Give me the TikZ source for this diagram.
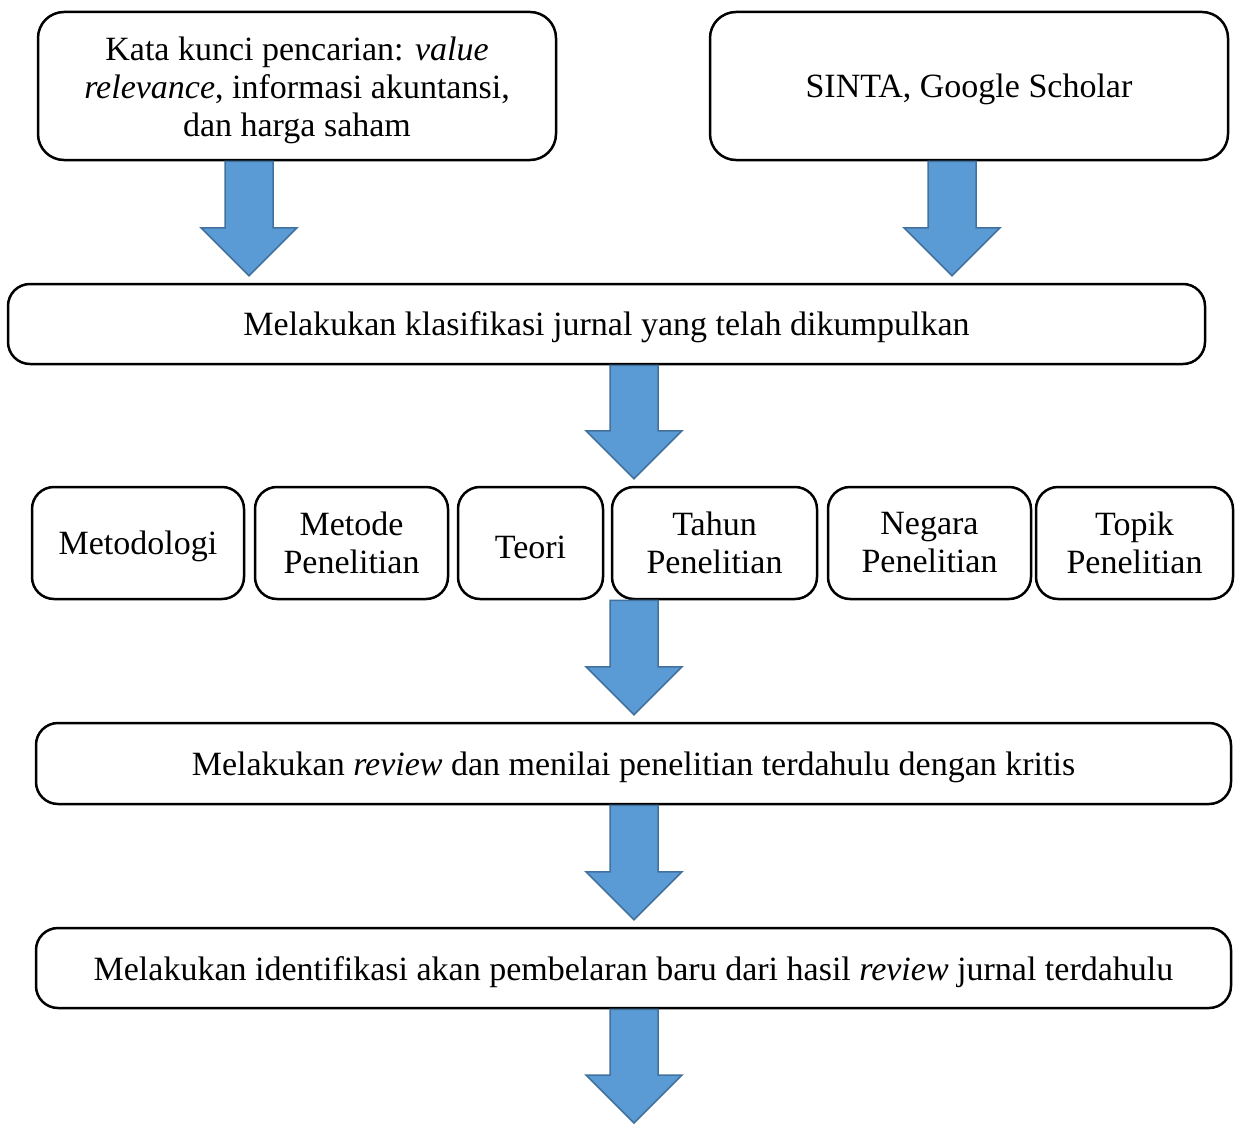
\documentclass[tikz,border=0pt]{standalone}
\usepackage{fontspec}
\setmainfont{Liberation Serif}
\usepackage{tikz}
\definecolor{arrowfill}{HTML}{5B9BD5}
\definecolor{arrowline}{HTML}{41719C}

% block arrow: x position, start point, end point
\newcommand{\flowarrow}[3]{%
    \coordinate (fa) at (#1,0 |- #2);
    \coordinate (fb) at (#1,0 |- #3);
    \path[blockarrow] ([xshift=-24pt]fa) -- ([xshift=24pt]fa)
        -- ([shift={(24,-55)}]fb) -- ([shift={(48,-55)}]fb)
        -- ([shift={(0,-7)}]fb)
        -- ([shift={(-48,-55)}]fb) -- ([shift={(-24,-55)}]fb) -- cycle;
}

\begin{document}
\begin{tikzpicture}[
                    x=1pt, y=-1pt,
                    box/.style={
                        rectangle,
                        draw,
                        line width=2.5pt,
                        rounded corners=22pt,
                        align=center,
                        inner sep=0pt,
                        font=\fontsize{34}{38}\selectfont
                    },
                    oneline/.style={
                        execute at begin node={\rule{0pt}{0.92em}}
                    },
                    blockarrow/.style={
                        fill=arrowfill,
                        draw=arrowline,
                        line width=1.5pt
                    }
                ]
                    \useasboundingbox (0,0) rectangle (1235,1124);

                    \node[box, minimum width=518pt, minimum height=148pt, rounded corners=26pt] (kata) at (297,86)
                        {\rule{0pt}{0.95em}Kata kunci pencarian: \textit{value}\\\textit{relevance}, informasi akuntansi,\\dan harga saham};
                    \node[box, oneline, minimum width=518pt, minimum height=148pt, rounded corners=26pt] (sinta) at (969,86)
                        {SINTA, Google Scholar};
                    \node[box, oneline, minimum width=1197pt, minimum height=80pt] (klas) at (606.5,324)
                        {Melakukan klasifikasi jurnal yang telah dikumpulkan};

                    % Row of classification items
                    \node[box, oneline, minimum width=212pt, minimum height=112pt] (metodologi) at (138,543) {Metodologi};
                    \node[box, minimum width=193pt, minimum height=112pt] (metode) at (351.5,543) {Metode\\Penelitian};
                    \node[box, oneline, minimum width=145pt, minimum height=112pt] (teori) at (530.5,543) {Teori};
                    \node[box, minimum width=205pt, minimum height=112pt] (tahun) at (714.5,543) {Tahun\\Penelitian};
                    \node[box, minimum width=203pt, minimum height=112pt] (negara) at (929.5,543) {Negara\\Penelitian};
                    \node[box, minimum width=197pt, minimum height=112pt] (topik) at (1134.5,543) {Topik\\Penelitian};

                    \node[box, oneline, minimum width=1195pt, minimum height=81pt] (review) at (633.5,763.5)
                        {Melakukan \textit{review} dan menilai penelitian terdahulu dengan kritis};
                    \node[box, oneline, minimum width=1195pt, minimum height=80pt] (identifikasi) at (633.5,968)
                        {Melakukan identifikasi akan pembelaran baru dari hasil \textit{review} jurnal terdahulu};
                    \coordinate (end) at (634,1130);

                    % Arrows
                    \flowarrow{249}{kata.south}{klas.north}
                    \flowarrow{952}{sinta.south}{klas.north}
                    \flowarrow{634}{klas.south}{tahun.north}
                    \flowarrow{634}{tahun.south}{review.north}
                    \flowarrow{634}{review.south}{identifikasi.north}
                    \flowarrow{634}{identifikasi.south}{end}
                \end{tikzpicture}
\end{document}
